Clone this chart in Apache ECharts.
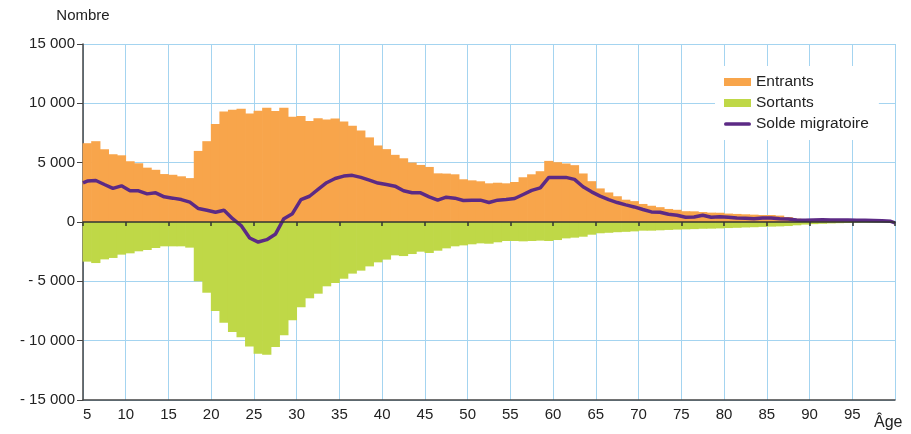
<!DOCTYPE html>
<html>
<head>
<meta charset="utf-8">
<script src="https://cdn.jsdelivr.net/npm/echarts@6/dist/echarts.min.js"></script>
<style>html,body{margin:0;padding:0;background:#fff}#c{width:911px;height:434px}</style>
</head>
<body>
<div id="c"></div>
<script>
// Ages 5..99 (one bar per age, each bar covering [age, age+1])
const ageStart = 5;
const entrants = [6640,6810,6130,5710,5620,5120,4950,4580,4400,4040,3980,3850,3700,5990,6810,8250,9320,9460,9550,9150,
  9380,9630,9350,9630,8870,8940,8520,8750,8630,8720,8460,8120,7720,7130,6450,6140,5660,5370,5010,4810,
  4640,4100,4080,4020,3600,3510,3430,3260,3310,3260,3370,3770,4020,4280,5150,5040,4930,4790,4090,3440,
  2830,2490,2170,1880,1760,1520,1370,1250,1100,1030,910,900,840,790,780,710,680,650,620,590,
  590,540,420,280,200,150,130,110,100,80,70,50,40,30,20];
const sortants = [-3340,-3460,-3150,-3030,-2750,-2640,-2470,-2360,-2190,-2050,-2050,-2050,-2160,-5000,-5960,-7500,-8480,-9270,-9720,-10500,
  -11100,-11180,-10530,-9550,-8290,-7190,-6430,-6040,-5420,-5140,-4780,-4350,-4100,-3740,-3400,-3170,-2810,-2870,-2700,-2500,
  -2610,-2420,-2220,-2050,-1970,-1880,-1800,-1830,-1710,-1600,-1600,-1630,-1600,-1570,-1600,-1520,-1380,-1320,-1240,-1070,
  -950,-910,-860,-830,-790,-730,-730,-700,-670,-640,-620,-600,-570,-560,-540,-510,-490,-460,-440,-410,
  -390,-370,-340,-280,-220,-180,-150,-120,-100,-80,-60,-50,-40,-30,-20];
const solde = [3450,3500,3160,2830,3050,2630,2630,2370,2460,2120,2010,1890,1670,1130,990,820,990,280,-300,-1350,
  -1690,-1490,-1040,280,700,1890,2170,2740,3310,3670,3870,3930,3760,3530,3280,3160,3020,2630,2460,2460,
  2120,1840,2090,2010,1810,1840,1840,1640,1840,1890,1980,2320,2660,2880,3760,3760,3760,3590,2970,2540,
  2180,1890,1640,1440,1270,1050,850,820,650,570,400,420,570,400,450,400,340,310,280,340,
  340,280,250,170,140,170,200,170,170,170,150,140,130,110,60];
const soldeLeftEdge = 3300;   // value where the line meets age 5
const soldeRightEdge = -80;   // value where the line meets age 100
const yTicks = [-15000,-10000,-5000,0,5000,10000,15000];
const xTicks = [5,10,15,20,25,30,35,40,45,50,55,60,65,70,75,80,85,90,95,100];

const ages = entrants.map((_, i) => ageStart + i);
const ageEnd = ages[ages.length - 1] + 1;
const entData = ages.map((a, i) => [a, entrants[i]]);
const sorData = ages.map((a, i) => [a, sortants[i]]);
const solData = [[ageStart, soldeLeftEdge]].concat(ages.map((a, i) => [a + 0.5, solde[i]])).concat([[ageEnd, soldeRightEdge]]);

const fmt = v => {
  const s = Math.abs(v).toString().replace(/\B(?=(\d{3})+(?!\d))/g, ' ');
  return v < 0 ? '- ' + s : s;
};
const font = 'Liberation Sans, Arial, sans-serif';
const grid = '#a4d4f0';
const cEnt = '#f8a54b', cSor = '#bfd847', cSol = '#5c2a85';
const lineIcon = 'path://M2,0 L27,0 A2,2 0 0 1 27,4 L2,4 A2,2 0 0 1 2,0 Z';

// bar covering one year of age: from [age, 0] to [age + 1, value], via the axes' scales
const ageBar = color => (params, api) => {
  const a = api.value(0), v = api.value(1);
  const p0 = api.coord([a, v]);
  const p1 = api.coord([a + 1, 0]);
  return {
    type: 'rect',
    shape: {x: p0[0] - 0.35, y: Math.min(p0[1], p1[1]), width: p1[0] - p0[0] + 0.7, height: Math.abs(p1[1] - p0[1])},
    style: {fill: color}
  };
};

const chart = echarts.init(document.getElementById('c'), null, {renderer: 'canvas'});
chart.setOption({
  animation: false,
  backgroundColor: '#fff',
  textStyle: {fontFamily: font},
  grid: {left: 83, right: 16, top: 44, bottom: 34},
  legend: {
    orient: 'vertical', left: 715, top: 66,
    backgroundColor: '#fff', padding: [8, 10, 8, 9],
    itemWidth: 27, itemHeight: 8, itemGap: 5, itemTextGap: 6,
    textStyle: {fontSize: 15.5, color: '#222', fontFamily: font},
    data: [{name: 'Entrants', icon: 'rect'}, {name: 'Sortants', icon: 'rect'}, {name: 'Solde migratoire', icon: lineIcon}]
  },
  xAxis: [{
    type: 'value', min: 5, max: 100, interval: 5,
    axisLine: {onZero: false, lineStyle: {color: '#444', width: 1.5}},
    axisTick: {show: false},
    axisLabel: {color: '#222', fontSize: 15, margin: 7, alignMinLabel: 'left',
      formatter: v => v === 100 ? '' : String(v)},
    splitLine: {show: true, lineStyle: {color: grid, width: 1}},
    name: 'Âge', nameLocation: 'end', nameGap: -21,
    nameTextStyle: {color: '#222', fontSize: 16, align: 'left', verticalAlign: 'top', padding: [15, 0, 0, 0]}
  }, {
    type: 'value', min: 5, max: 100, interval: 5, position: 'bottom', z: 10,
    axisLine: {onZero: true, lineStyle: {color: '#333', width: 1.5}},
    axisTick: {show: true, length: 4, lineStyle: {color: '#333', width: 1.5}},
    axisLabel: {show: false},
    splitLine: {show: false}
  }],
  yAxis: {
    type: 'value', min: -15000, max: 15000, interval: 5000,
    axisLine: {show: true, lineStyle: {color: '#444', width: 1.5}},
    axisTick: {show: true, length: 6, lineStyle: {color: '#444'}},
    axisLabel: {color: '#222', fontSize: 15, margin: 8, formatter: fmt},
    splitLine: {show: true, lineStyle: {color: grid, width: 1}},
    name: 'Nombre', nameLocation: 'end', nameGap: 21,
    nameTextStyle: {color: '#222', fontSize: 15, align: 'center'}
  },
  series: [{
    name: 'Entrants', type: 'custom', data: entData, renderItem: ageBar(cEnt),
    encode: {x: 0, y: 1}, itemStyle: {color: cEnt}, z: 2
  }, {
    name: 'Sortants', type: 'custom', data: sorData, renderItem: ageBar(cSor),
    encode: {x: 0, y: 1}, itemStyle: {color: cSor}, z: 2
  }, {
    name: 'Solde migratoire', type: 'line', data: solData, symbol: 'none',
    lineStyle: {color: cSol, width: 3.5}, itemStyle: {color: cSol}, z: 5
  }]
});
</script>
</body>
</html>
